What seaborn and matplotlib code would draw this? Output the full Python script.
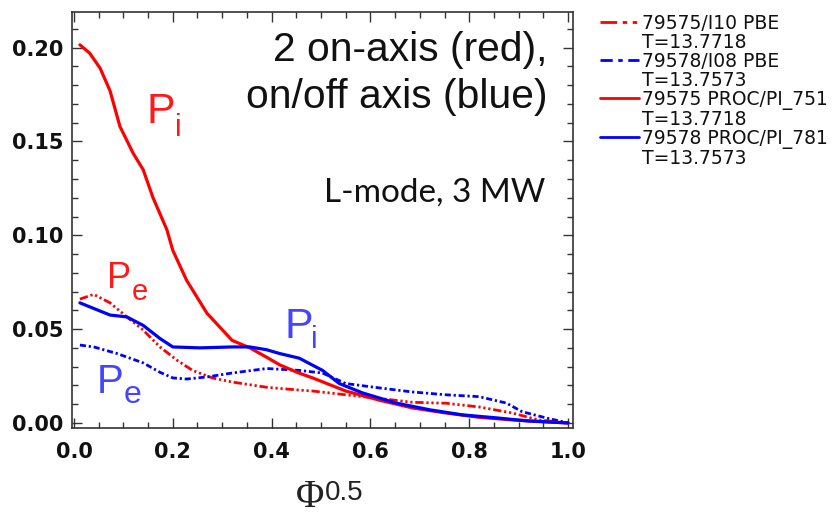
import matplotlib
matplotlib.use("Agg")
import matplotlib.pyplot as plt
from matplotlib.lines import Line2D
from matplotlib.ticker import MultipleLocator
import seaborn as sns
import pandas as pd

# ---- data ----
red_pi_x = [0.012, 0.032, 0.053, 0.073, 0.093, 0.12, 0.14, 0.16, 0.188, 0.2, 0.228, 0.269,
            0.32, 0.356, 0.39, 0.416, 0.456, 0.483, 0.55, 0.62, 0.685, 0.753, 0.82, 0.887, 0.95, 1.0]
red_pi_y = [0.2015, 0.197, 0.189, 0.177, 0.158, 0.1436, 0.135, 0.12, 0.103, 0.092, 0.076, 0.0585,
            0.044, 0.040, 0.035, 0.031, 0.0265, 0.024, 0.017, 0.012, 0.008, 0.0053, 0.003, 0.0016, 0.0007, 0.0]

red_pe_x = [0.012, 0.04, 0.073, 0.107, 0.14, 0.174, 0.208, 0.24, 0.28, 0.32, 0.39, 0.456, 0.483,
            0.55, 0.62, 0.685, 0.753, 0.82, 0.887, 0.94, 1.0]
red_pe_y = [0.066, 0.0685, 0.064, 0.0565, 0.0495, 0.0405, 0.0335, 0.028, 0.024, 0.0218, 0.019,
            0.0175, 0.017, 0.015, 0.013, 0.011, 0.0105, 0.0085, 0.0053, 0.0016, 0.0]

blue_pi_x = [0.012, 0.04, 0.073, 0.107, 0.14, 0.174, 0.2, 0.255, 0.32, 0.356, 0.39, 0.416, 0.456,
             0.503, 0.537, 0.584, 0.652, 0.72, 0.786, 0.855, 0.92, 1.0]
blue_pi_y = [0.064, 0.061, 0.0575, 0.0565, 0.052, 0.045, 0.0405, 0.040, 0.0405, 0.0405, 0.039,
             0.037, 0.0345, 0.028, 0.021, 0.016, 0.0106, 0.007, 0.0043, 0.0027, 0.001, 0.0]

blue_pe_x = [0.012, 0.04, 0.087, 0.14, 0.174, 0.2, 0.228, 0.269, 0.32, 0.39, 0.456, 0.503, 0.55,
             0.62, 0.685, 0.753, 0.82, 0.875, 0.907, 0.955, 1.0]
blue_pe_y = [0.0415, 0.0405, 0.037, 0.032, 0.027, 0.024, 0.0234, 0.0245, 0.0266, 0.029, 0.028,
             0.0266, 0.021, 0.0186, 0.0165, 0.015, 0.014, 0.0106, 0.006, 0.0027, 0.0]

series_names = ["79575/I10 PBE", "79578/I08 PBE", "79575 PROC/PI_751", "79578 PROC/PI_781"]
series_times = ["T=13.7718", "T=13.7573", "T=13.7718", "T=13.7573"]
x_ticks = [0.0, 0.2, 0.4, 0.6, 0.8, 1.0]
y_ticks = [0.00, 0.05, 0.10, 0.15, 0.20]

# ---- build long table ----
frames = []
for name, xs, ys in [(series_names[0], red_pe_x, red_pe_y),
                     (series_names[1], blue_pe_x, blue_pe_y),
                     (series_names[2], red_pi_x, red_pi_y),
                     (series_names[3], blue_pi_x, blue_pi_y)]:
    frames.append(pd.DataFrame({"rho": xs, "P": ys, "series": name}))
df = pd.concat(frames, ignore_index=True)

RED = "#ff0000"
BLUE = "#0000ff"
palette = {series_names[0]: RED, series_names[1]: BLUE,
           series_names[2]: RED, series_names[3]: BLUE}
dashes = {series_names[0]: (3, 1, 0.8, 1, 0.8, 1, 0.8, 1),
          series_names[1]: (2.2, 1, 0.8, 1),
          series_names[2]: "",
          series_names[3]: ""}

sns.set_style("ticks", {"xtick.direction": "in", "ytick.direction": "in"})
plt.rcParams["font.family"] = ["DejaVu Sans"]

fig = plt.figure(figsize=(8.38, 5.16), dpi=100)
ax = fig.add_axes([72 / 838, 1 - 428 / 516, (573 - 72) / 838, (428 - 12) / 516])

sns.lineplot(data=df, x="rho", y="P", hue="series", style="series", palette=palette,
             dashes=dashes, sort=False, estimator=None, legend=False, linewidth=2.3, ax=ax)
for ln in ax.lines:
    if ln.get_linestyle() != "-":
        ln.set_linewidth(2.0)

ax.set_xlim(-0.004, 1.01)
ax.set_ylim(-0.0027, 0.219)
ax.set_xticks(x_ticks)
ax.set_yticks(y_ticks)
ax.set_xticklabels([f"{v:.1f}" for v in x_ticks])
ax.set_yticklabels([f"{v:.2f}" for v in y_ticks])
ax.xaxis.set_minor_locator(MultipleLocator(0.05))
ax.yaxis.set_minor_locator(MultipleLocator(0.01))
ax.tick_params(which="both", direction="in", top=True, right=True, color="#333333", width=1)
ax.tick_params(which="major", length=7, labelsize=15)
ax.tick_params(axis="y", which="major", pad=6)
ax.tick_params(axis="x", which="major", pad=10)
ax.tick_params(which="minor", length=4)
for lab in ax.get_xticklabels() + ax.get_yticklabels():
    lab.set_fontweight("bold")
    lab.set_color("#111111")
ax.set_xlabel("")
ax.set_ylabel("")
for sp in ax.spines.values():
    sp.set_color("#333333")
    sp.set_linewidth(1.2)

def ft(px, py, s, **kw):
    fig.text(px / 838, 1 - py / 516, s, **kw)

# annotations
ft(547, 50, "2 on-axis (red),", ha="right", va="center", fontsize=29.3,
   family="Liberation Sans", color="#111111")
ft(547, 97, "on/off axis (blue)", ha="right", va="center", fontsize=29.3,
   family="Liberation Sans", color="#111111")
ft(545, 193, "L-mode, 3 MW", ha="right", va="center", fontsize=24,
   family="Lato", color="#111111")

RLAB = "#ff1a1a"
BLAB = "#4545ff"
ft(146, 123, "P", ha="left", va="baseline", fontsize=31, family="Liberation Sans", color=RLAB)
ft(175, 136, "i", ha="left", va="baseline", fontsize=22, family="Liberation Sans", color=RLAB)
ft(107, 288, "P", ha="left", va="baseline", fontsize=26, family="Liberation Sans", color=RLAB)
ft(132, 300, "e", ha="left", va="baseline", fontsize=21, family="Liberation Sans", color=RLAB)
ft(284, 338, "P", ha="left", va="baseline", fontsize=31, family="Liberation Sans", color=BLAB)
ft(311, 348, "i", ha="left", va="baseline", fontsize=22, family="Liberation Sans", color=BLAB)
ft(97, 393, "P", ha="left", va="baseline", fontsize=29, family="Liberation Sans", color=BLAB)
ft(124, 403, "e", ha="left", va="baseline", fontsize=23, family="Liberation Sans", color=BLAB)

# x label: Phi^0.5
ft(296, 516, "\u03a6", ha="left", va="bottom", fontsize=28, family="Liberation Serif", color="#222222")
ft(325, 500, "0.5", ha="left", va="baseline", fontsize=20, family="Liberation Sans", color="#222222")

# legend
handles = []
labels = []
styles = [(RED, (0, (6, 2, 1.6, 2, 1.6, 2, 1.6, 2))),
          (BLUE, (0, (4.4, 2, 1.6, 2))),
          (RED, "-"), (BLUE, "-")]
for (c, ls), n, t in zip(styles, series_names, series_times):
    handles.append(Line2D([], [], color=c, linestyle=ls, linewidth=2.0))
    labels.append(n)
    handles.append(Line2D([], [], color="none"))
    labels.append(t)
leg = fig.legend(handles, labels, loc="upper left", bbox_to_anchor=(600 / 838, 1 - 14 / 516),
                 frameon=False, fontsize=13.5, handlelength=2.1, handletextpad=0.15,
                 labelspacing=0.0, borderpad=0, borderaxespad=0)
for txt in leg.get_texts():
    txt.set_color("#111111")

fig.savefig("out.png", dpi=100)
